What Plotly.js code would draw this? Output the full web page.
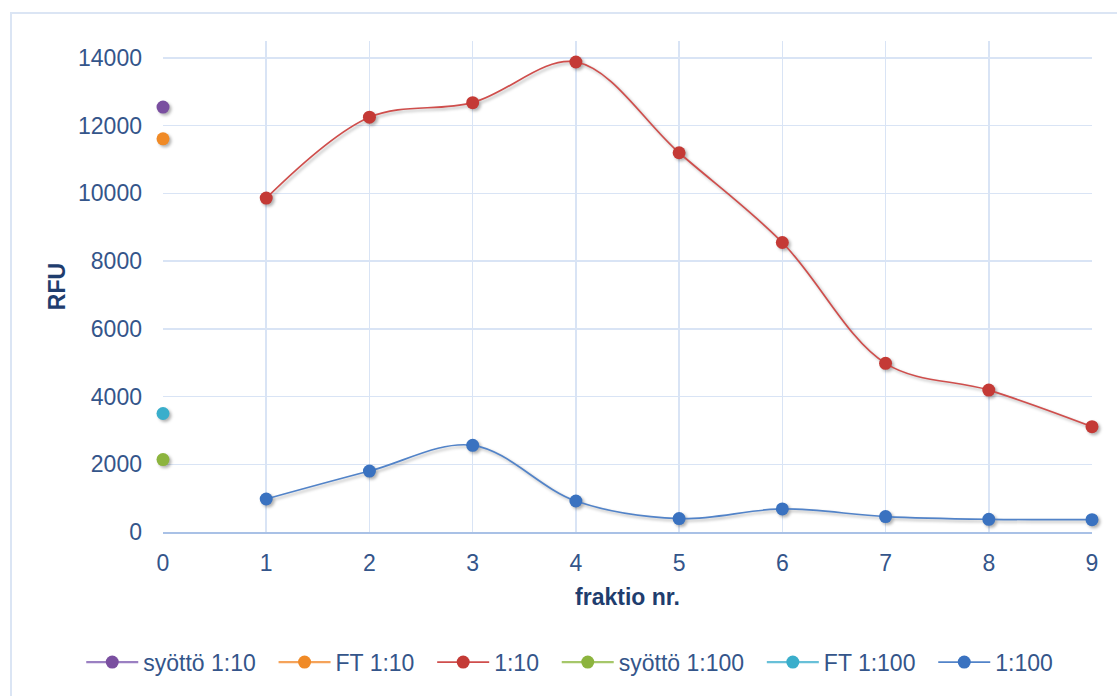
<!DOCTYPE html>
<html>
<head>
<meta charset="utf-8">
<script src="https://cdn.plot.ly/plotly-3.0.1.min.js"></script>
<style>
  html, body { margin: 0; padding: 0; background: #ffffff; overflow: hidden; }
  #chart { position: absolute; left: 0; top: 0; width: 1117px; height: 696px; }
  #frame { position: absolute; left: 10px; top: 12px; width: 1300px; height: 900px;
           border: 2px solid #dbe5f4; pointer-events: none; }
  #chart .scatterlayer .trace { filter: drop-shadow(2px 2px 1.5px rgba(0,0,0,0.30)); }
</style>
</head>
<body>
<div id="chart"></div>
<div id="frame"></div>
<script>
// Fraction numbers collected from the column
const fractions = [1, 2, 3, 4, 5, 6, 7, 8, 9];

// RFU per fraction, two dilutions
const rfu_1_10 = [9860, 12250, 12680, 13880, 11200, 8550, 4980, 4190, 3110];
const rfu_1_100 = [975, 1800, 2560, 915, 395, 680, 455, 375, 365];

// Feed and flow-through, measured once (plotted at fraction 0)
const feedX = [0];
const syotto_1_10 = [12550];
const ft_1_10 = [11610];
const syotto_1_100 = [2140];
const ft_1_100 = [3500];

const seriesNames = ['syöttö 1:10', 'FT 1:10', '1:10', 'syöttö 1:100', 'FT 1:100', '1:100'];

const tickFont = { family: 'Liberation Sans, Arial, sans-serif', size: 23, color: '#34558a' };
const titleFont = { family: 'Liberation Sans, Arial, sans-serif', size: 23, color: '#1f3d6e', weight: 'bold' };

// trailing no-break spaces widen the gap between legend entries
const pad = '\u00a0\u00a0';

function pointTrace(name, y, color, lineColor) {
  return {
    x: feedX, y: y, name: name + pad, type: 'scatter', mode: 'lines+markers',
    cliponaxis: false,
    line: { color: lineColor, width: 2.2 },
    marker: { color: color, size: 13 },
    hoverinfo: 'skip'
  };
}
function seriesTrace(name, y, color, lineColor) {
  return {
    x: fractions, y: y, name: name + pad, type: 'scatter', mode: 'lines+markers',
    cliponaxis: false,
    line: { color: lineColor, width: 1.7, shape: 'spline', smoothing: 1 },
    marker: { color: color, size: 13 },
    hoverinfo: 'skip'
  };
}

const data = [
  pointTrace(seriesNames[0], syotto_1_10, '#7a4fa0', '#9b80c2'),
  pointTrace(seriesNames[1], ft_1_10, '#f08a26', '#f5a35a'),
  seriesTrace(seriesNames[2], rfu_1_10, '#c43a36', '#cf4e4c'),
  pointTrace(seriesNames[3], syotto_1_100, '#8cb43e', '#a6c76a'),
  pointTrace(seriesNames[4], ft_1_100, '#3aaecb', '#68c0d8'),
  seriesTrace(seriesNames[5], rfu_1_100, '#3a72c0', '#5283c8')
];

const layout = {
  width: 1117, height: 696,
  margin: { l: 163, r: 25, t: 41, b: 163.5 },
  paper_bgcolor: 'rgba(0,0,0,0)',
  plot_bgcolor: '#ffffff',
  showlegend: true,
  legend: {
    orientation: 'h', x: -0.088, xanchor: 'left', y: -0.265, yanchor: 'middle',
    font: tickFont, itemwidth: 52, traceorder: 'normal', bgcolor: 'rgba(0,0,0,0)'
  },
  xaxis: {
    range: [0, 9], dtick: 1, tick0: 0,
    showgrid: true, gridcolor: '#d9e4f5', gridwidth: 1.5,
    zeroline: false, showline: true, linecolor: '#a9c1e6', linewidth: 1.5,
    ticks: '', ticklabelstandoff: 10,
    tickfont: tickFont,
    title: { text: 'fraktio nr.', font: titleFont, standoff: 14 }
  },
  yaxis: {
    range: [0, 14500], dtick: 2000, tick0: 0, tickformat: 'd',
    showgrid: true, gridcolor: '#d9e4f5', gridwidth: 1.5,
    zeroline: false, showline: false,
    ticks: '', ticklabelstandoff: 20,
    tickfont: tickFont,
    title: { text: 'RFU', font: titleFont, standoff: 5 }
  }
};

Plotly.newPlot('chart', data, layout, { displayModeBar: false, staticPlot: true });
</script>
</body>
</html>
